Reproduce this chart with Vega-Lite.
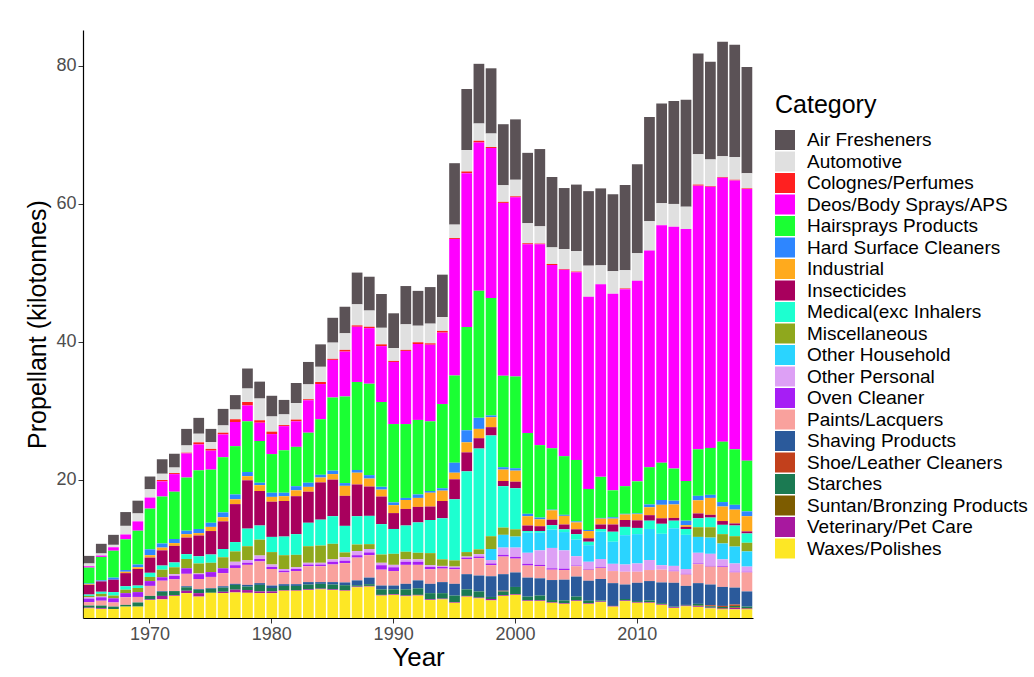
{
"$schema": "https://vega.github.io/schema/vega-lite/v6.json",
"width": 670, "height": 588,
"autosize": {"type": "none"},
"padding": {"left": 83, "top": 30, "right": 281, "bottom": 59},
"background": "white",
"config": {"view": {"stroke": null}, "font": "Liberation Sans"},
"data": {"values": [
{"Year":1965,"Air Fresheners":1.1,"Automotive":0.4,"Deos/Body Sprays/APS":0.2,"Hairsprays Products":2.3,"Hard Surface Cleaners":0.1,"Industrial":0.1,"Insecticides":1.4,"Medical(exc Inhalers":0.2,"Miscellaneous":0.2,"Other Personal":0.2,"Oven Cleaner":0.5,"Paints/Lacquers":0.5,"Starches":0.3,"Veterinary/Pet Care":0.1,"Waxes/Polishes":1.4},
{"Year":1966,"Air Fresheners":1.4,"Automotive":0.3,"Deos/Body Sprays/APS":0.2,"Hairsprays Products":3.4,"Hard Surface Cleaners":0.15,"Insecticides":1.5,"Medical(exc Inhalers":0.3,"Miscellaneous":0.4,"Other Personal":0.1,"Oven Cleaner":0.5,"Paints/Lacquers":0.7,"Starches":0.4,"Veterinary/Pet Care":0.1,"Waxes/Polishes":1.3},
{"Year":1967,"Air Fresheners":1.45,"Automotive":0.35,"Deos/Body Sprays/APS":0.5,"Hairsprays Products":3.9,"Hard Surface Cleaners":0.3,"Insecticides":1.8,"Medical(exc Inhalers":0.5,"Miscellaneous":0.4,"Oven Cleaner":0.6,"Paints/Lacquers":0.6,"Starches":0.35,"Waxes/Polishes":1.3},
{"Year":1968,"Air Fresheners":2.0,"Automotive":1.25,"Deos/Body Sprays/APS":0.7,"Hairsprays Products":4.45,"Hard Surface Cleaners":0.25,"Industrial":0.2,"Insecticides":1.9,"Medical(exc Inhalers":0.5,"Miscellaneous":0.5,"Oven Cleaner":0.6,"Paints/Lacquers":1.1,"Starches":0.25,"Waxes/Polishes":1.65},
{"Year":1969,"Air Fresheners":1.85,"Automotive":1.15,"Deos/Body Sprays/APS":1.35,"Hairsprays Products":4.9,"Hard Surface Cleaners":0.4,"Industrial":0.25,"Insecticides":2.4,"Medical(exc Inhalers":0.35,"Miscellaneous":0.6,"Oven Cleaner":0.7,"Paints/Lacquers":0.8,"Starches":0.6,"Waxes/Polishes":1.65},
{"Year":1970,"Air Fresheners":1.85,"Automotive":1.2,"Deos/Body Sprays/APS":1.6,"Hairsprays Products":5.9,"Hard Surface Cleaners":0.85,"Industrial":0.35,"Insecticides":2.2,"Medical(exc Inhalers":0.6,"Miscellaneous":0.6,"Oven Cleaner":0.7,"Paints/Lacquers":1.45,"Starches":0.5,"Veterinary/Pet Care":0.1,"Waxes/Polishes":2.6},
{"Year":1971,"Air Fresheners":2.1,"Automotive":0.9,"Colognes/Perfumes":0.2,"Deos/Body Sprays/APS":2.2,"Hairsprays Products":6.8,"Hard Surface Cleaners":0.6,"Industrial":0.4,"Insecticides":2.2,"Medical(exc Inhalers":0.6,"Miscellaneous":1.1,"Oven Cleaner":0.5,"Paints/Lacquers":1.5,"Shaving Products":0.1,"Starches":0.6,"Veterinary/Pet Care":0.5,"Waxes/Polishes":2.7},
{"Year":1972,"Air Fresheners":2.0,"Automotive":0.8,"Colognes/Perfumes":0.15,"Deos/Body Sprays/APS":2.55,"Hairsprays Products":6.85,"Hard Surface Cleaners":0.6,"Industrial":0.4,"Insecticides":2.4,"Medical(exc Inhalers":0.7,"Miscellaneous":1.0,"Other Personal":0.25,"Oven Cleaner":0.5,"Paints/Lacquers":1.7,"Starches":0.6,"Veterinary/Pet Care":0.1,"Waxes/Polishes":3.2},
{"Year":1973,"Air Fresheners":2.4,"Automotive":1.05,"Colognes/Perfumes":0.1,"Deos/Body Sprays/APS":3.5,"Hairsprays Products":7.7,"Hard Surface Cleaners":0.5,"Industrial":0.5,"Insecticides":2.4,"Medical(exc Inhalers":0.7,"Miscellaneous":1.35,"Oven Cleaner":0.8,"Paints/Lacquers":1.8,"Shaving Products":0.15,"Starches":0.5,"Veterinary/Pet Care":0.35,"Waxes/Polishes":3.6},
{"Year":1974,"Air Fresheners":2.3,"Automotive":1.25,"Colognes/Perfumes":0.3,"Deos/Body Sprays/APS":3.75,"Hairsprays Products":8.5,"Hard Surface Cleaners":0.6,"Industrial":0.35,"Insecticides":3.0,"Medical(exc Inhalers":1.05,"Miscellaneous":1.45,"Other Personal":0.1,"Oven Cleaner":0.7,"Paints/Lacquers":1.45,"Shaving Products":0.1,"Starches":0.5,"Veterinary/Pet Care":0.5,"Waxes/Polishes":3.1},
{"Year":1975,"Air Fresheners":1.9,"Automotive":1.0,"Colognes/Perfumes":0.25,"Deos/Body Sprays/APS":2.75,"Hairsprays Products":7.7,"Hard Surface Cleaners":0.6,"Industrial":0.6,"Insecticides":3.4,"Medical(exc Inhalers":1.2,"Miscellaneous":1.35,"Oven Cleaner":0.7,"Paints/Lacquers":1.6,"Shaving Products":0.1,"Starches":0.6,"Waxes/Polishes":3.65},
{"Year":1976,"Air Fresheners":2.4,"Automotive":1.05,"Colognes/Perfumes":0.25,"Deos/Body Sprays/APS":3.3,"Hairsprays Products":8.0,"Hard Surface Cleaners":0.7,"Industrial":0.6,"Insecticides":4.0,"Medical(exc Inhalers":1.2,"Miscellaneous":1.6,"Oven Cleaner":0.7,"Paints/Lacquers":1.9,"Shaving Products":0.2,"Starches":0.6,"Veterinary/Pet Care":0.2,"Waxes/Polishes":3.6},
{"Year":1977,"Air Fresheners":2.1,"Automotive":1.4,"Colognes/Perfumes":0.4,"Deos/Body Sprays/APS":3.5,"Hairsprays Products":7.0,"Hard Surface Cleaners":0.7,"Industrial":0.7,"Insecticides":5.5,"Medical(exc Inhalers":1.35,"Miscellaneous":1.5,"Other Personal":0.5,"Oven Cleaner":0.4,"Paints/Lacquers":2.3,"Shaving Products":0.15,"Starches":0.7,"Veterinary/Pet Care":0.4,"Waxes/Polishes":3.7},
{"Year":1978,"Air Fresheners":2.9,"Automotive":1.95,"Colognes/Perfumes":0.5,"Deos/Body Sprays/APS":2.3,"Hairsprays Products":7.35,"Hard Surface Cleaners":0.6,"Industrial":0.6,"Insecticides":7.0,"Medical(exc Inhalers":2.55,"Miscellaneous":2.0,"Other Personal":0.4,"Oven Cleaner":0.3,"Paints/Lacquers":2.9,"Shaving Products":0.25,"Starches":0.5,"Veterinary/Pet Care":0.4,"Waxes/Polishes":3.65},
{"Year":1979,"Air Fresheners":2.45,"Automotive":3.15,"Colognes/Perfumes":0.35,"Deos/Body Sprays/APS":2.65,"Hairsprays Products":6.05,"Hard Surface Cleaners":0.35,"Industrial":0.85,"Insecticides":5.0,"Medical(exc Inhalers":2.05,"Miscellaneous":2.3,"Other Personal":0.5,"Oven Cleaner":0.35,"Paints/Lacquers":3.15,"Shaving Products":0.25,"Starches":0.95,"Veterinary/Pet Care":0.25,"Waxes/Polishes":3.6},
{"Year":1980,"Air Fresheners":3.0,"Automotive":2.2,"Colognes/Perfumes":0.35,"Deos/Body Sprays/APS":2.9,"Hairsprays Products":5.6,"Hard Surface Cleaners":0.6,"Industrial":0.7,"Insecticides":5.1,"Medical(exc Inhalers":2.2,"Miscellaneous":1.8,"Other Personal":0.35,"Oven Cleaner":0.3,"Paints/Lacquers":2.4,"Shaving Products":0.35,"Starches":0.5,"Veterinary/Pet Care":0.25,"Waxes/Polishes":3.6},
{"Year":1981,"Air Fresheners":2.1,"Automotive":1.55,"Colognes/Perfumes":0.15,"Deos/Body Sprays/APS":3.5,"Hairsprays Products":6.15,"Hard Surface Cleaners":0.5,"Industrial":0.7,"Insecticides":5.15,"Medical(exc Inhalers":2.7,"Miscellaneous":2.0,"Other Personal":0.25,"Oven Cleaner":0.25,"Paints/Lacquers":1.7,"Shaving Products":0.25,"Starches":0.6,"Veterinary/Pet Care":0.1,"Waxes/Polishes":3.95},
{"Year":1982,"Air Fresheners":2.9,"Automotive":2.4,"Colognes/Perfumes":0.25,"Deos/Body Sprays/APS":3.7,"Hairsprays Products":5.7,"Hard Surface Cleaners":0.6,"Industrial":0.85,"Insecticides":5.5,"Medical(exc Inhalers":3.0,"Miscellaneous":1.8,"Other Personal":0.25,"Oven Cleaner":0.3,"Paints/Lacquers":1.9,"Shaving Products":0.25,"Starches":0.6,"Veterinary/Pet Care":0.1,"Waxes/Polishes":3.95},
{"Year":1983,"Air Fresheners":3.25,"Automotive":2.15,"Colognes/Perfumes":0.15,"Deos/Body Sprays/APS":4.7,"Hairsprays Products":7.25,"Hard Surface Cleaners":0.6,"Industrial":0.7,"Insecticides":4.5,"Medical(exc Inhalers":3.4,"Miscellaneous":2.4,"Other Personal":0.25,"Oven Cleaner":0.25,"Paints/Lacquers":2.3,"Shaving Products":0.35,"Starches":0.7,"Veterinary/Pet Care":0.1,"Waxes/Polishes":4.05},
{"Year":1984,"Air Fresheners":3.25,"Automotive":2.2,"Colognes/Perfumes":0.3,"Deos/Body Sprays/APS":5.1,"Hairsprays Products":8.05,"Hard Surface Cleaners":0.4,"Industrial":0.7,"Insecticides":5.4,"Medical(exc Inhalers":3.75,"Miscellaneous":2.5,"Other Personal":0.25,"Oven Cleaner":0.25,"Paints/Lacquers":2.3,"Shaving Products":0.25,"Starches":0.7,"Veterinary/Pet Care":0.1,"Waxes/Polishes":4.15},
{"Year":1985,"Air Fresheners":3.6,"Automotive":2.35,"Colognes/Perfumes":0.15,"Deos/Body Sprays/APS":5.45,"Hairsprays Products":10.6,"Hard Surface Cleaners":0.5,"Industrial":0.8,"Insecticides":5.3,"Medical(exc Inhalers":4.0,"Miscellaneous":2.25,"Other Personal":0.35,"Oven Cleaner":0.4,"Paints/Lacquers":2.55,"Shaving Products":0.35,"Starches":0.7,"Veterinary/Pet Care":0.1,"Waxes/Polishes":4.05},
{"Year":1986,"Air Fresheners":3.85,"Automotive":2.4,"Colognes/Perfumes":0.25,"Deos/Body Sprays/APS":6.5,"Hairsprays Products":12.55,"Hard Surface Cleaners":0.4,"Industrial":1.45,"Insecticides":4.35,"Medical(exc Inhalers":3.85,"Miscellaneous":0.7,"Other Personal":0.5,"Oven Cleaner":0.35,"Paints/Lacquers":2.8,"Shaving Products":0.4,"Starches":0.7,"Veterinary/Pet Care":0.1,"Waxes/Polishes":3.95},
{"Year":1987,"Air Fresheners":4.6,"Automotive":3.05,"Colognes/Perfumes":0.2,"Deos/Body Sprays/APS":8.0,"Hairsprays Products":12.75,"Hard Surface Cleaners":0.4,"Industrial":1.7,"Insecticides":4.6,"Medical(exc Inhalers":4.1,"Miscellaneous":0.95,"Other Personal":0.6,"Oven Cleaner":0.35,"Paints/Lacquers":3.3,"Shaving Products":0.7,"Starches":0.2,"Veterinary/Pet Care":0.1,"Waxes/Polishes":4.45},
{"Year":1988,"Air Fresheners":4.9,"Automotive":2.35,"Colognes/Perfumes":0.2,"Deos/Body Sprays/APS":8.05,"Hairsprays Products":13.25,"Hard Surface Cleaners":0.5,"Industrial":1.15,"Insecticides":4.25,"Medical(exc Inhalers":4.1,"Miscellaneous":0.7,"Other Personal":0.5,"Oven Cleaner":0.4,"Paints/Lacquers":3.25,"Shaving Products":0.95,"Starches":0.25,"Veterinary/Pet Care":0.1,"Waxes/Polishes":4.55},
{"Year":1989,"Air Fresheners":4.9,"Automotive":2.4,"Colognes/Perfumes":0.25,"Deos/Body Sprays/APS":8.1,"Hairsprays Products":12.3,"Hard Surface Cleaners":0.4,"Industrial":1.0,"Insecticides":4.0,"Medical(exc Inhalers":4.4,"Miscellaneous":1.2,"Other Personal":0.35,"Oven Cleaner":0.65,"Paints/Lacquers":2.3,"Shaving Products":0.55,"Starches":0.8,"Veterinary/Pet Care":0.1,"Waxes/Polishes":3.25},
{"Year":1990,"Air Fresheners":5.05,"Automotive":1.85,"Colognes/Perfumes":0.15,"Deos/Body Sprays/APS":9.0,"Hairsprays Products":11.35,"Hard Surface Cleaners":0.4,"Industrial":1.15,"Insecticides":2.3,"Medical(exc Inhalers":3.6,"Miscellaneous":1.6,"Other Personal":0.35,"Oven Cleaner":0.55,"Paints/Lacquers":2.1,"Shaving Products":0.55,"Starches":0.7,"Veterinary/Pet Care":0.1,"Waxes/Polishes":3.35},
{"Year":1991,"Air Fresheners":5.55,"Automotive":3.7,"Colognes/Perfumes":0.15,"Deos/Body Sprays/APS":10.6,"Hairsprays Products":10.7,"Hard Surface Cleaners":0.3,"Industrial":1.3,"Insecticides":2.4,"Medical(exc Inhalers":3.8,"Miscellaneous":1.1,"Other Personal":0.35,"Oven Cleaner":0.45,"Paints/Lacquers":2.75,"Shaving Products":0.8,"Starches":0.9,"Veterinary/Pet Care":0.1,"Waxes/Polishes":3.15},
{"Year":1992,"Air Fresheners":5.05,"Automotive":2.4,"Colognes/Perfumes":0.25,"Deos/Body Sprays/APS":11.0,"Hairsprays Products":10.8,"Hard Surface Cleaners":0.5,"Industrial":1.3,"Insecticides":2.25,"Medical(exc Inhalers":4.4,"Miscellaneous":0.95,"Other Personal":0.35,"Oven Cleaner":0.45,"Paints/Lacquers":2.25,"Shaving Products":1.15,"Starches":0.95,"Veterinary/Pet Care":0.1,"Waxes/Polishes":3.25},
{"Year":1993,"Air Fresheners":5.3,"Automotive":2.85,"Colognes/Perfumes":0.2,"Deos/Body Sprays/APS":11.1,"Hairsprays Products":10.1,"Hard Surface Cleaners":0.25,"Industrial":2.0,"Insecticides":1.95,"Medical(exc Inhalers":4.8,"Miscellaneous":1.75,"Other Personal":0.25,"Oven Cleaner":0.35,"Paints/Lacquers":2.1,"Shaving Products":1.35,"Starches":0.9,"Veterinary/Pet Care":0.1,"Waxes/Polishes":2.6},
{"Year":1994,"Air Fresheners":6.15,"Automotive":2.0,"Colognes/Perfumes":0.25,"Deos/Body Sprays/APS":10.35,"Hairsprays Products":12.2,"Hard Surface Cleaners":0.35,"Industrial":1.5,"Insecticides":2.5,"Medical(exc Inhalers":5.95,"Miscellaneous":0.95,"Other Personal":0.15,"Oven Cleaner":0.25,"Paints/Lacquers":1.95,"Shaving Products":1.6,"Starches":0.8,"Veterinary/Pet Care":0.1,"Waxes/Polishes":2.7},
{"Year":1995,"Air Fresheners":8.9,"Automotive":1.95,"Colognes/Perfumes":0.15,"Deos/Body Sprays/APS":19.75,"Hairsprays Products":12.65,"Hard Surface Cleaners":1.45,"Industrial":0.95,"Insecticides":2.9,"Medical(exc Inhalers":8.85,"Miscellaneous":0.9,"Other Personal":0.15,"Oven Cleaner":0.25,"Paints/Lacquers":2.1,"Shaving Products":1.7,"Starches":0.95,"Veterinary/Pet Care":0.1,"Waxes/Polishes":2.2},
{"Year":1996,"Air Fresheners":8.85,"Automotive":3.1,"Colognes/Perfumes":0.25,"Deos/Body Sprays/APS":22.3,"Hairsprays Products":14.95,"Hard Surface Cleaners":1.75,"Industrial":1.45,"Insecticides":2.75,"Medical(exc Inhalers":11.7,"Miscellaneous":0.65,"Other Personal":0.15,"Oven Cleaner":0.2,"Paints/Lacquers":2.2,"Shaving Products":2.2,"Starches":0.95,"Veterinary/Pet Care":0.1,"Waxes/Polishes":3.1},
{"Year":1997,"Air Fresheners":8.65,"Automotive":2.5,"Colognes/Perfumes":0.25,"Deos/Body Sprays/APS":21.5,"Hairsprays Products":18.4,"Hard Surface Cleaners":1.6,"Industrial":1.35,"Insecticides":1.5,"Medical(exc Inhalers":14.6,"Miscellaneous":0.7,"Other Personal":0.35,"Oven Cleaner":0.25,"Paints/Lacquers":2.5,"Shaving Products":2.3,"Starches":0.9,"Veterinary/Pet Care":0.1,"Waxes/Polishes":2.85},
{"Year":1998,"Air Fresheners":9.45,"Automotive":1.95,"Colognes/Perfumes":0.15,"Deos/Body Sprays/APS":21.75,"Hairsprays Products":17.0,"Hard Surface Cleaners":0.25,"Industrial":1.45,"Insecticides":1.2,"Medical(exc Inhalers":14.6,"Miscellaneous":1.85,"Other Household":1.6,"Other Personal":0.5,"Oven Cleaner":0.25,"Paints/Lacquers":1.6,"Shaving Products":3.0,"Starches":0.3,"Veterinary/Pet Care":0.2,"Waxes/Polishes":2.55},
{"Year":1999,"Air Fresheners":8.85,"Automotive":2.4,"Colognes/Perfumes":0.15,"Deos/Body Sprays/APS":25.05,"Hairsprays Products":13.25,"Hard Surface Cleaners":0.35,"Industrial":1.65,"Insecticides":0.75,"Medical(exc Inhalers":6.0,"Miscellaneous":1.05,"Other Household":1.85,"Other Personal":1.05,"Oven Cleaner":0.25,"Paints/Lacquers":2.55,"Shaving Products":2.4,"Shoe/Leather Cleaners":0.1,"Starches":0.55,"Veterinary/Pet Care":0.1,"Waxes/Polishes":3.2},
{"Year":2000,"Air Fresheners":8.75,"Automotive":2.4,"Colognes/Perfumes":0.15,"Deos/Body Sprays/APS":25.95,"Hairsprays Products":13.3,"Hard Surface Cleaners":0.35,"Industrial":1.6,"Insecticides":0.95,"Medical(exc Inhalers":5.95,"Miscellaneous":1.05,"Other Household":1.6,"Other Personal":1.35,"Oven Cleaner":0.25,"Paints/Lacquers":2.0,"Shaving Products":2.1,"Starches":1.05,"Veterinary/Pet Care":0.1,"Waxes/Polishes":3.35},
{"Year":2001,"Air Fresheners":10.2,"Automotive":2.9,"Colognes/Perfumes":0.15,"Deos/Body Sprays/APS":27.35,"Hairsprays Products":11.7,"Hard Surface Cleaners":0.35,"Industrial":1.35,"Insecticides":0.8,"Medical(exc Inhalers":0.25,"Other Household":2.9,"Other Personal":1.6,"Oven Cleaner":0.25,"Paints/Lacquers":1.75,"Shaving Products":2.75,"Starches":0.55,"Veterinary/Pet Care":0.1,"Waxes/Polishes":2.45},
{"Year":2002,"Air Fresheners":11.2,"Automotive":2.5,"Colognes/Perfumes":0.1,"Deos/Body Sprays/APS":29.1,"Hairsprays Products":10.5,"Hard Surface Cleaners":0.25,"Industrial":1.0,"Insecticides":0.7,"Medical(exc Inhalers":0.25,"Other Household":2.55,"Other Personal":2.1,"Oven Cleaner":0.2,"Paints/Lacquers":1.75,"Shaving Products":2.5,"Starches":0.7,"Veterinary/Pet Care":0.1,"Waxes/Polishes":2.45},
{"Year":2003,"Air Fresheners":10.2,"Automotive":2.4,"Colognes/Perfumes":0.15,"Deos/Body Sprays/APS":26.55,"Hairsprays Products":8.9,"Hard Surface Cleaners":0.1,"Industrial":1.35,"Insecticides":0.8,"Medical(exc Inhalers":0.65,"Other Household":2.65,"Other Personal":2.95,"Oven Cleaner":0.2,"Paints/Lacquers":1.5,"Shaving Products":2.9,"Starches":0.3,"Veterinary/Pet Care":0.1,"Waxes/Polishes":2.2},
{"Year":2004,"Air Fresheners":8.85,"Automotive":2.9,"Colognes/Perfumes":0.1,"Deos/Body Sprays/APS":27.0,"Hairsprays Products":8.5,"Hard Surface Cleaners":0.15,"Industrial":1.25,"Insecticides":0.7,"Medical(exc Inhalers":0.4,"Other Household":2.65,"Other Personal":2.65,"Oven Cleaner":0.2,"Paints/Lacquers":1.4,"Shaving Products":3.0,"Starches":0.4,"Veterinary/Pet Care":0.1,"Waxes/Polishes":2.05},
{"Year":2005,"Air Fresheners":9.65,"Automotive":2.95,"Colognes/Perfumes":0.1,"Deos/Body Sprays/APS":27.2,"Hairsprays Products":8.9,"Hard Surface Cleaners":0.15,"Industrial":1.0,"Insecticides":0.7,"Medical(exc Inhalers":0.8,"Other Household":2.4,"Other Personal":1.35,"Oven Cleaner":0.1,"Paints/Lacquers":1.5,"Shaving Products":2.9,"Starches":0.55,"Veterinary/Pet Care":0.1,"Waxes/Polishes":2.45},
{"Year":2006,"Air Fresheners":10.8,"Automotive":4.5,"Deos/Body Sprays/APS":27.85,"Hairsprays Products":5.95,"Hard Surface Cleaners":0.15,"Industrial":1.05,"Insecticides":0.5,"Medical(exc Inhalers":0.5,"Other Household":2.4,"Other Personal":1.05,"Oven Cleaner":0.1,"Paints/Lacquers":1.6,"Shaving Products":2.9,"Starches":0.35,"Veterinary/Pet Care":0.1,"Waxes/Polishes":2.05},
{"Year":2007,"Air Fresheners":11.15,"Automotive":2.75,"Deos/Body Sprays/APS":27.9,"Hairsprays Products":5.95,"Hard Surface Cleaners":0.1,"Industrial":0.85,"Insecticides":0.65,"Medical(exc Inhalers":0.4,"Other Household":3.95,"Other Personal":1.2,"Oven Cleaner":0.1,"Paints/Lacquers":1.6,"Shaving Products":3.1,"Starches":0.15,"Veterinary/Pet Care":0.1,"Waxes/Polishes":2.3},
{"Year":2008,"Air Fresheners":11.15,"Automotive":3.25,"Deos/Body Sprays/APS":28.5,"Hairsprays Products":3.9,"Hard Surface Cleaners":0.2,"Industrial":0.85,"Insecticides":1.05,"Medical(exc Inhalers":1.45,"Other Household":3.2,"Other Personal":1.05,"Paints/Lacquers":1.75,"Shaving Products":3.3,"Veterinary/Pet Care":0.1,"Waxes/Polishes":1.65},
{"Year":2009,"Air Fresheners":12.35,"Automotive":2.65,"Colognes/Perfumes":0.1,"Deos/Body Sprays/APS":28.55,"Hairsprays Products":4.0,"Hard Surface Cleaners":0.1,"Industrial":0.8,"Insecticides":1.0,"Medical(exc Inhalers":1.2,"Other Household":4.25,"Other Personal":1.05,"Paints/Lacquers":1.85,"Shaving Products":2.1,"Starches":0.2,"Veterinary/Pet Care":0.1,"Waxes/Polishes":2.45},
{"Year":2010,"Air Fresheners":12.9,"Automotive":4.0,"Deos/Body Sprays/APS":29.05,"Hairsprays Products":4.65,"Hard Surface Cleaners":0.1,"Industrial":0.9,"Insecticides":1.1,"Medical(exc Inhalers":0.9,"Other Household":4.25,"Other Personal":1.2,"Paints/Lacquers":1.6,"Shaving Products":2.65,"Starches":0.15,"Veterinary/Pet Care":0.1,"Waxes/Polishes":2.2},
{"Year":2011,"Air Fresheners":15.1,"Automotive":4.25,"Deos/Body Sprays/APS":31.4,"Hairsprays Products":5.4,"Hard Surface Cleaners":0.4,"Industrial":1.15,"Insecticides":0.8,"Medical(exc Inhalers":1.2,"Other Household":4.5,"Other Personal":1.45,"Paints/Lacquers":1.6,"Shaving Products":2.8,"Starches":0.25,"Veterinary/Pet Care":0.1,"Waxes/Polishes":2.2},
{"Year":2012,"Air Fresheners":14.45,"Automotive":3.2,"Deos/Body Sprays/APS":34.4,"Hairsprays Products":5.4,"Hard Surface Cleaners":0.7,"Industrial":1.95,"Insecticides":0.8,"Medical(exc Inhalers":1.45,"Other Household":4.55,"Other Personal":0.65,"Paints/Lacquers":1.85,"Shaving Products":3.0,"Starches":0.15,"Veterinary/Pet Care":0.1,"Waxes/Polishes":1.9},
{"Year":2013,"Air Fresheners":14.9,"Automotive":3.3,"Deos/Body Sprays/APS":35.05,"Hairsprays Products":4.65,"Hard Surface Cleaners":0.55,"Industrial":1.95,"Insecticides":0.4,"Medical(exc Inhalers":1.1,"Other Household":5.45,"Other Personal":0.7,"Oven Cleaner":0.1,"Paints/Lacquers":1.65,"Shaving Products":3.45,"Starches":0.1,"Veterinary/Pet Care":0.1,"Waxes/Polishes":1.45},
{"Year":2014,"Air Fresheners":15.5,"Automotive":3.25,"Deos/Body Sprays/APS":36.5,"Hairsprays Products":5.75,"Hard Surface Cleaners":0.65,"Industrial":0.25,"Insecticides":0.3,"Medical(exc Inhalers":0.85,"Other Household":4.95,"Other Personal":0.7,"Oven Cleaner":0.1,"Paints/Lacquers":1.65,"Shaving Products":2.75,"Starches":0.1,"Veterinary/Pet Care":0.1,"Waxes/Polishes":1.7},
{"Year":2015,"Air Fresheners":14.6,"Automotive":4.4,"Colognes/Perfumes":0.15,"Deos/Body Sprays/APS":38.2,"Hairsprays Products":6.75,"Hard Surface Cleaners":0.65,"Industrial":1.9,"Insecticides":0.7,"Medical(exc Inhalers":1.3,"Miscellaneous":1.4,"Other Household":2.3,"Other Personal":1.55,"Oven Cleaner":0.1,"Paints/Lacquers":2.75,"Shaving Products":3.0,"Starches":0.25,"Suntan/Bronzing Products":0.1,"Veterinary/Pet Care":0.1,"Waxes/Polishes":1.6},
{"Year":2016,"Air Fresheners":14.15,"Automotive":3.85,"Colognes/Perfumes":0.1,"Deos/Body Sprays/APS":37.85,"Hairsprays Products":6.8,"Hard Surface Cleaners":0.45,"Industrial":2.45,"Insecticides":0.4,"Medical(exc Inhalers":1.4,"Miscellaneous":1.5,"Other Household":2.35,"Other Personal":1.75,"Oven Cleaner":0.1,"Paints/Lacquers":2.6,"Shaving Products":3.0,"Shoe/Leather Cleaners":0.15,"Starches":0.2,"Veterinary/Pet Care":0.1,"Waxes/Polishes":1.4},
{"Year":2017,"Air Fresheners":16.6,"Automotive":3.0,"Colognes/Perfumes":0.1,"Deos/Body Sprays/APS":38.25,"Hairsprays Products":8.75,"Hard Surface Cleaners":0.65,"Industrial":2.1,"Insecticides":0.55,"Medical(exc Inhalers":1.35,"Miscellaneous":1.35,"Other Household":2.3,"Other Personal":1.0,"Oven Cleaner":0.1,"Paints/Lacquers":2.9,"Shaving Products":2.75,"Shoe/Leather Cleaners":0.15,"Starches":0.15,"Suntan/Bronzing Products":0.1,"Veterinary/Pet Care":0.1,"Waxes/Polishes":1.25},
{"Year":2018,"Air Fresheners":16.25,"Automotive":3.3,"Colognes/Perfumes":0.1,"Deos/Body Sprays/APS":38.95,"Hairsprays Products":8.05,"Hard Surface Cleaners":0.7,"Industrial":2.0,"Insecticides":0.3,"Medical(exc Inhalers":1.55,"Miscellaneous":1.5,"Other Household":2.45,"Other Personal":1.2,"Oven Cleaner":0.1,"Paints/Lacquers":2.2,"Shaving Products":2.45,"Shoe/Leather Cleaners":0.2,"Starches":0.2,"Suntan/Bronzing Products":0.1,"Veterinary/Pet Care":0.2,"Waxes/Polishes":1.25},
{"Year":2019,"Air Fresheners":15.4,"Automotive":2.2,"Colognes/Perfumes":0.1,"Deos/Body Sprays/APS":39.35,"Hairsprays Products":7.35,"Hard Surface Cleaners":0.7,"Industrial":2.2,"Insecticides":0.3,"Medical(exc Inhalers":1.35,"Miscellaneous":1.25,"Other Household":2.2,"Other Personal":0.75,"Oven Cleaner":0.1,"Paints/Lacquers":2.75,"Shaving Products":2.2,"Starches":0.2,"Suntan/Bronzing Products":0.1,"Veterinary/Pet Care":0.1,"Waxes/Polishes":1.25}
]},
"transform": [
 {"fold": ["Air Fresheners","Automotive","Colognes/Perfumes","Deos/Body Sprays/APS","Hairsprays Products","Hard Surface Cleaners","Industrial","Insecticides","Medical(exc Inhalers","Miscellaneous","Other Household","Other Personal","Oven Cleaner","Paints/Lacquers","Shaving Products","Shoe/Leather Cleaners","Starches","Suntan/Bronzing Products","Veterinary/Pet Care","Waxes/Polishes"], "as": ["Category","Value"]},
 {"filter": "isValid(datum.Value) && datum.Value > 0"}
],
"mark": {"type": "bar"},
"encoding": {
 "x": {"field": "Year", "type": "ordinal",
   "scale": {"paddingInner": 0.12, "paddingOuter": 0.06},
   "axis": {"values": [1970,1980,1990,2000,2010], "labelAngle": 0, "title": "Year",
     "labelFontSize": 18, "labelColor": "#4d4d4d", "labelPadding": 2,
     "tickSize": 5, "tickColor": "#333333", "domainColor": "#000000", "domainWidth": 1.2,
     "titleFontSize": 26, "titleFontWeight": "normal", "titleColor": "#000000", "titlePadding": 1}},
 "y": {"field": "Value", "type": "quantitative", "stack": "zero",
   "scale": {"domain": [0, 85.2], "nice": false},
   "axis": {"values": [20,40,60,80], "title": "Propellant (kilotonnes)", "grid": false,
     "labelFontSize": 18, "labelColor": "#4d4d4d", "labelPadding": 2,
     "tickSize": 5, "tickColor": "#333333", "domainColor": "#000000", "domainWidth": 1.2,
     "titleFontSize": 25, "titleFontWeight": "normal", "titleColor": "#000000", "titlePadding": 5}},
 "color": {"field": "Category", "type": "nominal",
   "scale": {
     "domain": ["Air Fresheners","Automotive","Colognes/Perfumes","Deos/Body Sprays/APS","Hairsprays Products","Hard Surface Cleaners","Industrial","Insecticides","Medical(exc Inhalers","Miscellaneous","Other Household","Other Personal","Oven Cleaner","Paints/Lacquers","Shaving Products","Shoe/Leather Cleaners","Starches","Suntan/Bronzing Products","Veterinary/Pet Care","Waxes/Polishes"],
     "range": ["#5b5256","#e0e0e0","#ff2020","#ff00ff","#1aff33","#2e86ff","#ffaa1d","#a8005d","#1dffd0","#8fa81d","#2ad4ff","#dda0f5","#a61ef5","#f9a19d","#2b5a9b","#c2401c","#1b7a52","#7d5c00","#a8189f","#fde725"]},
   "legend": {"orient": "none", "legendX": 692, "legendY": 63, "title": "Category",
     "titleFontSize": 25, "titleFontWeight": "normal", "titleColor": "#000000", "titlePadding": 12,
     "labelFontSize": 19, "labelColor": "#000000", "labelOffset": 12,
     "symbolType": "square", "symbolSize": 400, "symbolStrokeWidth": 0, "rowPadding": 1.5, "labelLimit": 300}},
 "order": {"field": "Category", "sort": "descending"}
}
}
